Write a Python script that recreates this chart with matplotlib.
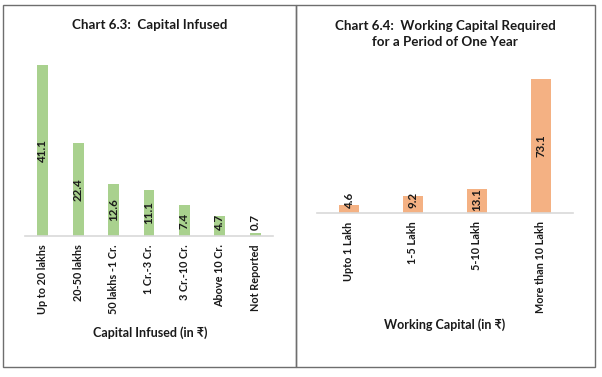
import matplotlib.pyplot as plt
from matplotlib.patches import Rectangle

plt.rcParams['font.family'] = ['Lato', 'DejaVu Sans']

cap_labels = ['Up to 20 lakhs', '20-50 lakhs', '50 lakhs -1 Cr.', '1 Cr.-3 Cr.',
              '3 Cr.-10 Cr.', 'Above 10 Cr.', 'Not Reported']
cap_values = [41.1, 22.4, 12.6, 11.1, 7.4, 4.7, 0.7]

wc_labels = ['Upto 1 Lakh', '1-5 Lakh', '5-10 Lakh', 'More than 10 Lakh']
wc_values = [4.6, 9.2, 13.1, 73.1]

W, H = 602, 377
fig = plt.figure(figsize=(W / 100, H / 100), dpi=100)


def px(x0, y0, x1, y1):
    # pixel box (top-left origin) -> figure fraction rect
    return [x0 / W, 1 - y1 / H, (x1 - x0) / W, (y1 - y0) / H]


def draw(ax, labels, values, color, ytop, minlab, title, xlabel, tx, ty, xly):
    x = range(len(values))
    ax.bar(x, values, width=0.31, color=color)
    ax.set_xlim(-0.5, len(values) - 0.5)
    ax.set_ylim(0, ytop)
    for s in ['top', 'right', 'left']:
        ax.spines[s].set_visible(False)
    ax.spines['bottom'].set_color('#d9d9d9')
    ax.spines['bottom'].set_linewidth(1.2)
    ax.set_yticks([])
    ax.set_xticks(list(x))
    ax.set_xticklabels(labels, rotation=90, fontsize=7.8, fontweight='bold', color='#1a1a1a')
    ax.tick_params(axis='x', length=0, pad=6)
    for i, v in enumerate(values):
        ax.text(i, max(v / 2, minlab), f'{v:.1f}', rotation=90, ha='center', va='center',
                fontsize=8.3, fontweight='bold', color='#1a1a1a')
    fig.text(tx / W, 1 - ty / H, title, ha='center', va='center', fontsize=9.6,
             fontweight='bold', color='#1a1a1a', linespacing=1.3)
    fig.text(tx / W, 1 - xly / H, xlabel, ha='center', va='center', fontsize=9,
             fontweight='bold', color='#1a1a1a')


ax1 = fig.add_axes(px(25, 60, 273, 236))
draw(ax1, cap_labels, cap_values, '#a9d18e', 42.3, 3.4,
     'Chart 6.3:  Capital Infused', 'Capital Infused (in \u20b9)', 150, 25, 333)

ax2 = fig.add_axes(px(317, 60, 573, 213))
draw(ax2, wc_labels, wc_values, '#f4b183', 83.6, 7.3,
     'Chart 6.4:  Working Capital Required\nfor a Period of One Year',
     'Working Capital (in \u20b9)', 445, 34, 325)

for x0, x1 in [(3, 296), (296, 595)]:
    fig.patches.append(Rectangle((x0 / W, 1 - 367 / H), (x1 - x0) / W, 362 / H,
                                 transform=fig.transFigure, fill=False,
                                 edgecolor='#6e6e6e', linewidth=1))

fig.savefig('out.png', dpi=100)
